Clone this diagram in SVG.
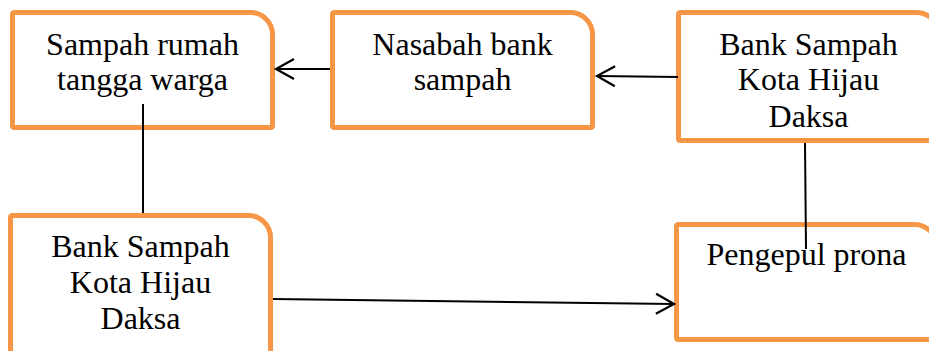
<svg xmlns="http://www.w3.org/2000/svg" width="929" height="351" viewBox="0 0 929 351">
<style>
.box{fill:#fff;stroke:#F79646;stroke-width:5;stroke-linejoin:round}
.t{font-size:32px;fill:#000;text-anchor:middle}
.c{stroke:#000;stroke-width:2;fill:none}
</style>
<defs>
<marker id="arr" markerUnits="userSpaceOnUse" markerWidth="24" markerHeight="24" viewBox="-20 -12 22 24" refX="0" refY="0" orient="auto">
<path d="M-18,-10 L0,0 L-18,10" fill="none" stroke="#000" stroke-width="2.2"/>
</marker>
</defs>
<rect width="929" height="351" fill="#fff"/>
<g font-family="'Liberation Serif', 'Times New Roman', Times, serif">
<g id="node1">
<path class="box" d="M14.5,12.5 H250.5 A22,22 0 0 1 272.5,34.5 V125.5 Q272.5,127.5 270.5,127.5 H14.5 Q12.5,127.5 12.5,125.5 V14.5 Q12.5,12.5 14.5,12.5 Z"/>
<text class="t" x="142.5" y="55">Sampah rumah</text>
<text class="t" x="142.5" y="90">tangga warga</text>
</g>
<g id="node2">
<path class="box" d="M334.5,12.5 H570.5 A22,22 0 0 1 592.5,34.5 V125.5 Q592.5,127.5 590.5,127.5 H334.5 Q332.5,127.5 332.5,125.5 V14.5 Q332.5,12.5 334.5,12.5 Z"/>
<text class="t" x="462.5" y="55">Nasabah bank</text>
<text class="t" x="462.5" y="90">sampah</text>
</g>
<g id="node3">
<path class="box" d="M680.5,12.5 H916.5 A22,22 0 0 1 938.5,34.5 V138.5 Q938.5,140.5 936.5,140.5 H680.5 Q678.5,140.5 678.5,138.5 V14.5 Q678.5,12.5 680.5,12.5 Z"/>
<text class="t" x="808.5" y="55">Bank Sampah</text>
<text class="t" x="808.5" y="90">Kota Hijau</text>
<text class="t" x="808.5" y="127">Daksa</text>
</g>
<g id="node4">
<path class="box" d="M12.5,215.5 H248.5 A22,22 0 0 1 270.5,237.5 V370 H10.5 V217.5 Q10.5,215.5 12.5,215.5 Z"/>
<text class="t" x="140.5" y="257">Bank Sampah</text>
<text class="t" x="140.5" y="293">Kota Hijau</text>
<text class="t" x="140.5" y="329">Daksa</text>
</g>
<g id="node5">
<path class="box" d="M678.5,224.5 H914.5 A22,22 0 0 1 936.5,246.5 V337.5 Q936.5,339.5 934.5,339.5 H678.5 Q676.5,339.5 676.5,337.5 V226.5 Q676.5,224.5 678.5,224.5 Z"/>
<text class="t" x="806.5" y="265">Pengepul prona</text>
</g>
</g>
<g id="connectors">
<line class="c" x1="330" y1="69" x2="276" y2="69" marker-end="url(#arr)"/>
<line class="c" x1="678" y1="77" x2="597" y2="76" marker-end="url(#arr)"/>
<line class="c" x1="273" y1="299" x2="674" y2="304" marker-end="url(#arr)"/>
<line class="c" x1="143" y1="104" x2="143" y2="213"/>
<line class="c" x1="805" y1="143" x2="806" y2="249"/>
</g>
</svg>
